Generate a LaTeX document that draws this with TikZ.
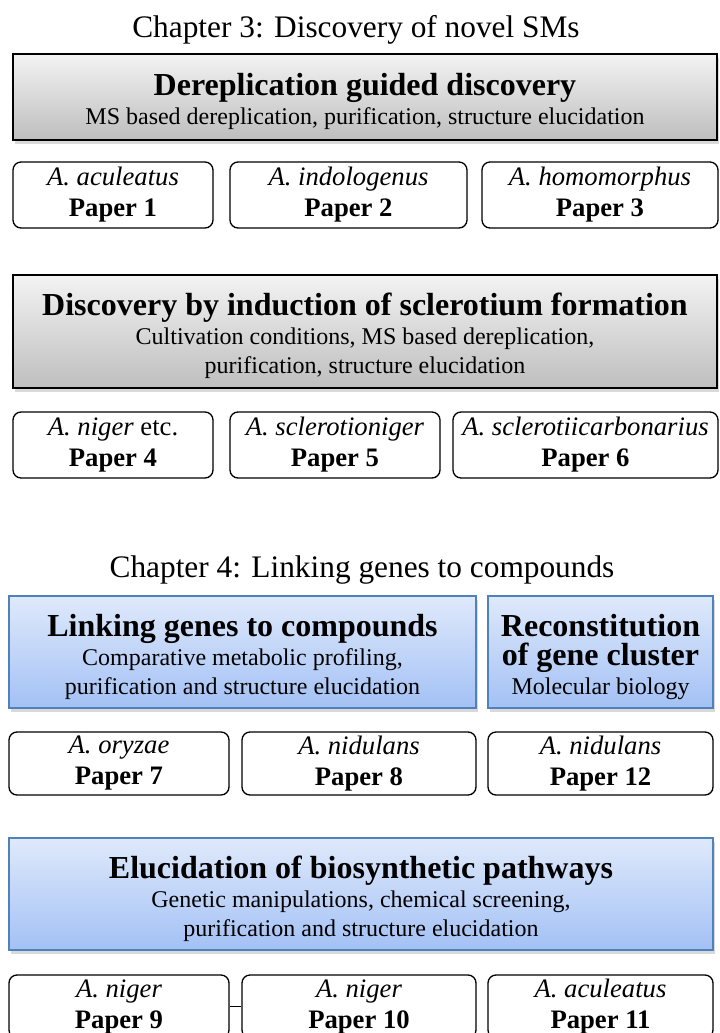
\documentclass[tikz,border=0pt]{standalone}
\usepackage{fontspec}
\setmainfont{Liberation Serif}
\usepackage{xcolor}
\usetikzlibrary{positioning, shadows}
\definecolor{frost}{RGB}{243,243,243}
\definecolor{pewter}{RGB}{190,190,190}
\definecolor{skytop}{RGB}{223,233,251}
\definecolor{skybot}{RGB}{163,193,245}
\definecolor{navyline}{RGB}{79,129,189}
\newcommand{\topicline}[1]{{\fontsize{24}{29}\selectfont\bfseries #1}}
\newcommand{\topichead}[1]{\rule{0pt}{24pt}\topicline{#1}}

\begin{document}
\begin{tikzpicture}[x=0.75pt, y=-0.75pt]
  \tikzset{
    chap/.style={font=\fontsize{23.5}{28}\selectfont, inner sep=0pt, anchor=base},
    topic/.style={draw=black, line width=1.3pt, top color=frost, bottom color=pewter,
      align=center, inner sep=0pt, font=\fontsize{18}{21.75}\selectfont,
      drop shadow={shadow xshift=1.5pt, shadow yshift=-3pt, opacity=0.3}},
    genetopic/.style={topic, draw=navyline, top color=skytop, bottom color=skybot},
    paper/.style={draw=black, line width=1pt, rounded corners=6pt, fill=white,
      align=center, inner sep=0pt, font=\fontsize{20}{23.25}\selectfont}}
  \useasboundingbox (0,0) rectangle (720,1033);

  % --- chapter 3
  \node[chap] (chapthree) at (356,37) {Chapter 3: Discovery of novel SMs};

  \node[topic, minimum width=528pt, minimum height=64.5pt] (derep) at (365,97)
    {\topichead{Dereplication guided discovery}\\
     MS based dereplication, purification, structure elucidation};

  \node[paper, minimum width=150pt, minimum height=49.5pt] (p1) at (113,195)
    {\textit{A. aculeatus}\\ \textbf{Paper 1}};
  \node[paper, minimum width=177.75pt, minimum height=49.5pt] (p2) at (348.5,195)
    {\textit{A. indologenus}\\ \textbf{Paper 2}};
  \node[paper, minimum width=177pt, minimum height=49.5pt] (p3) at (600,195)
    {\textit{A. homomorphus}\\ \textbf{Paper 3}};

  \node[topic, minimum width=528pt, minimum height=84.75pt] (sclero) at (365,331.5)
    {\topichead{Discovery by induction of sclerotium formation}\\
     Cultivation conditions, MS based dereplication,\\
     purification, structure elucidation};

  \node[paper, minimum width=150pt, minimum height=49.5pt] (p4) at (113,445)
    {\textit{A. niger} etc.\\ \textbf{Paper 4}};
  \node[paper, minimum width=157.5pt, minimum height=49.5pt] (p5) at (335,445)
    {\textit{A. sclerotioniger}\\ \textbf{Paper 5}};
  \node[paper, minimum width=198.75pt, minimum height=49.5pt] (p6) at (585.5,445)
    {\textit{A. sclerotiicarbonarius}\\ \textbf{Paper 6}};

  % --- chapter 4
  \node[chap] (chapfour) at (362,577) {Chapter 4: Linking genes to compounds};

  \node[genetopic, minimum width=350.25pt, minimum height=84pt] (linking) at (242.5,652)
    {\topichead{Linking genes to compounds}\\
     Comparative metabolic profiling,\\
     purification and structure elucidation};
  \node[genetopic, minimum width=168.75pt, minimum height=84pt] (recon) at (600.5,652)
    {\topichead{Reconstitution}\\ \topicline{of gene cluster}\\ Molecular biology};

  \node[paper, minimum width=165pt, minimum height=47.25pt] (p7) at (119,763.5)
    {\textit{A. oryzae}\\ \textbf{Paper 7}};
  \node[paper, minimum width=175.5pt, minimum height=47.25pt] (p8) at (359,763.5)
    {\textit{A. nidulans}\\ \textbf{Paper 8}};
  \node[paper, minimum width=168.75pt, minimum height=47.25pt] (p12) at (600.5,763.5)
    {\textit{A. nidulans}\\ \textbf{Paper 12}};

  \node[genetopic, minimum width=528pt, minimum height=84pt] (pathway) at (361,894)
    {\topichead{Elucidation of biosynthetic pathways}\\
     Genetic manipulations, chemical screening,\\
     purification and structure elucidation};

  \node[paper, minimum width=165pt, minimum height=47.25pt] (p9) at (119,1006.5)
    {\textit{A. niger}\\ \textbf{Paper 9}};
  \node[paper, minimum width=175.5pt, minimum height=47.25pt] (p10) at (359,1006.5)
    {\textit{A. niger}\\ \textbf{Paper 10}};
  \node[paper, minimum width=168.75pt, minimum height=47.25pt] (p11) at (600.5,1006.5)
    {\textit{A. aculeatus}\\ \textbf{Paper 11}};

  \draw[line width=1pt] (p9) -- (p10);
\end{tikzpicture}
\end{document}
